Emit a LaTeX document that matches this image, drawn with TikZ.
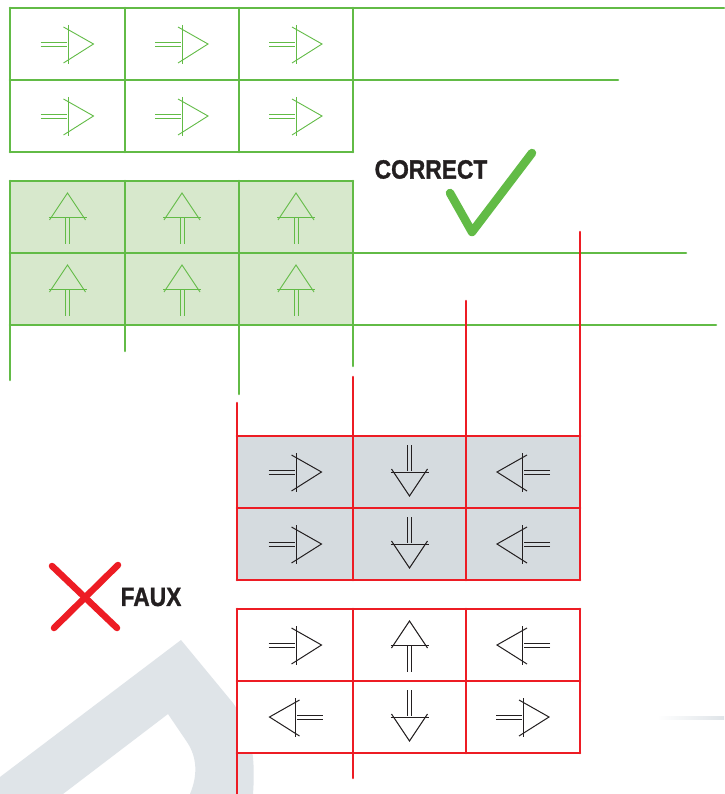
\documentclass[tikz,border=0pt]{standalone}
\usepackage{fontspec}
\newfontfamily\lblfont[BoldFeatures={FakeBold=1.2}]{Liberation Sans}
\definecolor{grn}{HTML}{62BB46}
\definecolor{grnfill}{HTML}{D7E8CC}
\definecolor{rd}{HTML}{ED1C24}
\definecolor{grayfill}{HTML}{D5DBDF}
\definecolor{wm}{HTML}{DFE4E8}
\definecolor{ink}{HTML}{231F20}
\tikzset{
  gline/.style={draw=grn, line width=2.6pt, line cap=round},
  rline/.style={draw=rd, line width=2.6pt, line cap=round},
  gsym/.style={color=grn, line width=0.9pt},
  ksym/.style={color=ink, line width=1pt},
  lbl/.style={font=\lblfont\bfseries\fontsize{26.5}{30}\selectfont, text=ink, inner sep=0pt},
  rarrow/.pic={\draw (-27,-2)--(-1,-2) (-27,2)--(-1,2); \draw (0.5,-19)--(0.5,20); \draw (-4,-17)--(26,0)--(-4,19);},
  larrow/.pic={\draw (27,-2)--(1,-2) (27,2)--(1,2); \draw (-0.5,-19)--(-0.5,20); \draw (4,-17)--(-26,0)--(4,19);},
  uarrow/.pic={\draw (-2,1)--(-2,27) (2,1)--(2,27); \draw (-19,0)--(19,0); \draw (-18,3)--(0,-24)--(18,3);},
  darrow/.pic={\draw (-2,-1)--(-2,-27) (2,-1)--(2,-27); \draw (-19,0)--(19,0); \draw (-18,-3)--(0,24)--(18,-3);}
}
\begin{document}
\begin{tikzpicture}[x=1pt,y=-1pt]
\useasboundingbox (0,0) rectangle (724,794);
\fill[white] (0,0) rectangle (724,794);
% watermark
\fill[wm] (0,777) -- (181,640) -- (233,703) .. controls (250,727) and (256,752) .. (253,794)
  -- (190,794) .. controls (198,775) and (197,757) .. (187,742) -- (168,714) -- (63,794) -- (0,794) -- cycle;
\shade[left color=white, right color=wm] (657,716.5) rectangle (724,719);

% green grid 1
\draw[gline] (10,8) -- (724,8);
\draw[gline] (10,80) -- (618,80);
\draw[gline] (10,152) -- (353,152);
\foreach \x in {10,125,239,353} \draw[gline] (\x,8) -- (\x,152);
\foreach \x in {67.5,182,296} \foreach \y in {44,116} \pic[gsym] at (\x,\y) {rarrow};

% green grid 2
\fill[grnfill] (10,181) rectangle (353,325);
\draw[gline] (10,181) -- (353,181);
\draw[gline] (10,253) -- (686,253);
\draw[gline] (10,325) -- (716,325);
\draw[gline] (10,181) -- (10,380);
\draw[gline] (125,181) -- (125,351);
\draw[gline] (239,181) -- (239,394);
\draw[gline] (353,181) -- (353,366);
\foreach \x in {67.5,182,296} \foreach \y in {217,289} \pic[gsym] at (\x,\y) {uarrow};

% CORRECT label and check mark
\node[lbl] (correct) at (431,169.5) {\scalebox{0.86}[1]{CORRECT}};
\draw[grn, line width=8.5pt, line cap=round, line join=round] (450,193) -- (472,232) -- (532,153);

% red grid 1
\fill[grayfill] (237,436) rectangle (580,580);
\foreach \y in {436,508,580} \draw[rline] (237,\y) -- (580,\y);
\draw[rline] (237,403) -- (237,580);
\draw[rline] (353,377) -- (353,580);
\draw[rline] (466,301) -- (466,580);
\draw[rline] (580,232) -- (580,580);
\foreach \y in {472,544} {
  \pic[ksym] at (295.5,\y) {rarrow};
  \pic[ksym] at (409.5,\y) {darrow};
  \pic[ksym] at (523,\y) {larrow};
}

% red grid 2
\fill[white] (237,609) rectangle (580,753);
\foreach \y in {609,681,753} \draw[rline] (237,\y) -- (580,\y);
\draw[rline] (237,609) -- (237,794);
\draw[rline] (353,609) -- (353,778);
\draw[rline] (466,609) -- (466,753);
\draw[rline] (580,609) -- (580,753);
\pic[ksym] at (295.5,645) {rarrow};
\pic[ksym] at (409.5,645) {uarrow};
\pic[ksym] at (523,645) {larrow};
\pic[ksym] at (295.5,717) {larrow};
\pic[ksym] at (409.5,717) {darrow};
\pic[ksym] at (523,717) {rarrow};

% FAUX label and cross
\draw[rd, line width=6.5pt, line cap=round] (52,566) -- (117,628);
\draw[rd, line width=6.5pt, line cap=round] (118,565) -- (54,628);
\node[lbl] (faux) at (151,597) {\scalebox{0.86}[1]{FAUX}};
\end{tikzpicture}
\end{document}
